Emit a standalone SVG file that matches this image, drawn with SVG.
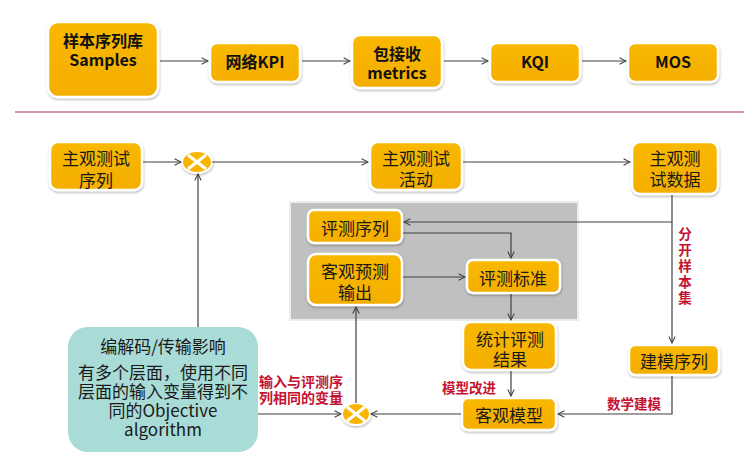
<svg xmlns="http://www.w3.org/2000/svg" width="744" height="460" viewBox="0 0 744 460">
<defs>
<filter id="sh" x="-20%" y="-20%" width="140%" height="150%">
<feDropShadow dx="0.5" dy="1.5" stdDeviation="1.2" flood-color="#000" flood-opacity="0.28"/>
</filter>
<marker id="ar" viewBox="0 0 10 10" refX="9" refY="5" markerWidth="8" markerHeight="8" markerUnits="userSpaceOnUse" orient="auto">
<path d="M1,1 L9,5 L1,9" fill="none" stroke="#404040" stroke-width="1.3"/>
</marker>
<linearGradient id="yg" x1="0" y1="0" x2="0" y2="1">
<stop offset="0" stop-color="#f9b800"/>
<stop offset="1" stop-color="#f4ae00"/>
</linearGradient>
</defs>
<style>
.nd{fill:url(#yg);stroke:#fff;stroke-width:2.5;filter:url(#sh)}
.t{font-family:"Noto Sans CJK SC","Liberation Sans",sans-serif;font-size:17px;fill:#1a1a1a;text-anchor:middle;dominant-baseline:central}
.b{font-weight:bold;fill:#111;font-size:16px}
.r{font-family:"Noto Sans CJK SC","Liberation Sans",sans-serif;font-size:13.5px;font-weight:bold;fill:#c4122f;text-anchor:middle;dominant-baseline:central}
.c{fill:none;stroke:#404040;stroke-width:1.2;marker-end:url(#ar)}
.x{stroke:#fff;stroke-width:3}
</style>
<rect width="744" height="460" fill="#fff"/>
<line x1="15" y1="112" x2="744" y2="112" stroke="#c27583" stroke-width="1.5"/>

<g id="n1"><rect class="nd" x="48" y="22" width="110" height="75" rx="10"/><text class="t b" x="103" y="40">样本序列库</text><text class="t b" x="103" y="59">Samples</text></g>
<g id="n2"><rect class="nd" x="210" y="43" width="90" height="39" rx="7"/><text class="t b" x="255" y="61">网络KPI</text></g>
<g id="n3"><rect class="nd" x="352" y="35" width="90" height="53" rx="8"/><text class="t b" x="397" y="53">包接收</text><text class="t b" x="397" y="72">metrics</text></g>
<g id="n4"><rect class="nd" x="490" y="43" width="90" height="39" rx="7"/><text class="t b" x="535" y="61">KQI</text></g>
<g id="n5"><rect class="nd" x="628" y="43" width="90" height="39" rx="7"/><text class="t b" x="673" y="61">MOS</text></g>

<g id="grayarea"><rect x="290" y="202" width="288" height="118" fill="#c0c0c0" stroke="#ececec" stroke-width="2"/></g>

<g id="a1"><rect class="nd" x="50" y="142" width="92" height="48" rx="8"/><text class="t" x="96" y="157">主观测试</text><text class="t" x="96" y="179">序列</text></g>
<g id="a2"><rect class="nd" x="370" y="142" width="92" height="48" rx="8"/><text class="t" x="416" y="157">主观测试</text><text class="t" x="416" y="178">活动</text></g>
<g id="a3"><rect class="nd" x="632" y="142" width="86" height="52" rx="8"/><text class="t" x="675" y="157">主观测</text><text class="t" x="675" y="178">试数据</text></g>
<g id="b1"><rect class="nd" x="308" y="210" width="94" height="33" rx="6"/><text class="t" x="355" y="227">评测序列</text></g>
<g id="b2"><rect class="nd" x="308" y="254" width="94" height="51" rx="8"/><text class="t" x="355" y="270">客观预测</text><text class="t" x="355" y="291">输出</text></g>
<g id="b3"><rect class="nd" x="467" y="260" width="93" height="33" rx="6"/><text class="t" x="513" y="277">评测标准</text></g>
<g id="c1"><rect class="nd" x="463" y="322" width="93" height="48" rx="8"/><text class="t" x="510" y="338">统计评测</text><text class="t" x="510" y="358">结果</text></g>
<g id="c2"><rect class="nd" x="462" y="398" width="94" height="32" rx="6"/><text class="t" x="509" y="414">客观模型</text></g>
<g id="d1"><rect class="nd" x="629" y="345" width="90" height="30" rx="6"/><text class="t" x="674" y="360">建模序列</text></g>
<g id="teal"><rect x="68" y="327" width="190" height="125" rx="20" fill="#a9dbd7"/>
<text class="t" x="163" y="345">编解码/传输影响</text>
<text class="t" x="163" y="371">有多个层面，使用不同</text>
<text class="t" x="163" y="390">层面的输入变量得到不</text>
<text class="t" x="163" y="409">同的Objective</text>
<text class="t" x="163" y="428">algorithm</text></g>
<g id="x1"><ellipse cx="197" cy="162" rx="15" ry="11" fill="#f7b500" stroke="#fff" stroke-width="2" filter="url(#sh)"/><line class="x" x1="188" y1="155" x2="206" y2="169"/><line class="x" x1="206" y1="155" x2="188" y2="169"/></g>
<g id="x2"><ellipse cx="356" cy="414" rx="14" ry="11" fill="#f7b500" stroke="#fff" stroke-width="2" filter="url(#sh)"/><line class="x" x1="347" y1="407" x2="365" y2="421"/><line class="x" x1="365" y1="407" x2="347" y2="421"/></g>

<g id="connectors">
<line class="c" x1="160" y1="61" x2="208" y2="61"/>
<line class="c" x1="302" y1="61" x2="350" y2="61"/>
<line class="c" x1="444" y1="61" x2="488" y2="61"/>
<line class="c" x1="582" y1="61" x2="626" y2="61"/>
<line class="c" x1="143" y1="162" x2="181" y2="162"/>
<line class="c" x1="212" y1="162" x2="368" y2="162"/>
<line class="c" x1="463" y1="162" x2="630" y2="162"/>
<line class="c" x1="672" y1="195" x2="672" y2="343"/>
<polyline class="c" points="672,222 404,222"/>
<polyline class="c" points="403,233 511,233 511,258"/>
<line class="c" x1="403" y1="277" x2="465" y2="277"/>
<line class="c" x1="511" y1="294" x2="511" y2="320"/>
<line class="c" x1="511" y1="371" x2="511" y2="396"/>
<polyline class="c" points="672,376 672,414 558,414"/>
<line class="c" x1="461" y1="414" x2="371" y2="414"/>
<line class="c" x1="258" y1="414" x2="341" y2="414"/>
<line class="c" x1="356" y1="403" x2="356" y2="307"/>
<line class="c" x1="198" y1="327" x2="198" y2="174"/>
</g>

<g id="labels">
<text class="r" x="685" y="233">分</text>
<text class="r" x="685" y="249">开</text>
<text class="r" x="685" y="265">样</text>
<text class="r" x="685" y="281">本</text>
<text class="r" x="685" y="297">集</text>
<text class="r" x="634" y="403">数学建模</text>
<text class="r" x="469" y="387">模型改进</text>
<text class="r" x="301" y="381" style="font-size:14px">输入与评测序</text>
<text class="r" x="301" y="397" style="font-size:14px">列相同的变量</text>
</g>
</svg>
